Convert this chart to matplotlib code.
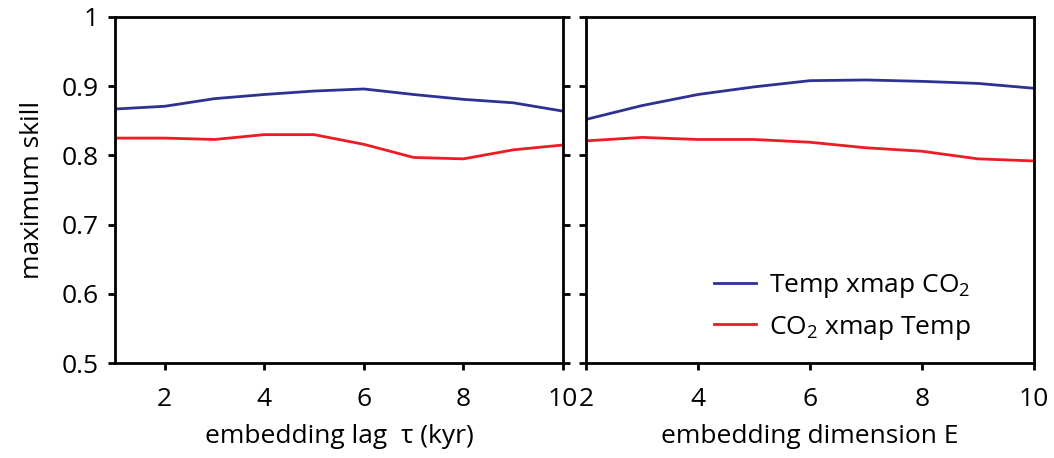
import numpy as np
import matplotlib
matplotlib.use('Agg')
import matplotlib.pyplot as plt

# skill vs embedding lag (E fixed)
lag_kyr = [1, 2, 3, 4, 5, 6, 7, 8, 9, 10]
lag_temp_xmap_co2 = [0.867, 0.871, 0.882, 0.888, 0.893, 0.896, 0.888, 0.881, 0.876, 0.864]
lag_co2_xmap_temp = [0.825, 0.825, 0.823, 0.830, 0.830, 0.816, 0.797, 0.795, 0.808, 0.815]

# skill vs embedding dimension (tau fixed)
dim_E = [2, 3, 4, 5, 6, 7, 8, 9, 10]
dim_temp_xmap_co2 = [0.852, 0.872, 0.888, 0.899, 0.908, 0.909, 0.907, 0.904, 0.897]
dim_co2_xmap_temp = [0.821, 0.826, 0.823, 0.823, 0.819, 0.811, 0.806, 0.795, 0.792]

y_ticks = [0.5, 0.6, 0.7, 0.8, 0.9, 1.0]
y_ticklabels = ['0.5', '0.6', '0.7', '0.8', '0.9', '1']

BLUE = '#2e3192'
RED = '#ed1c24'

plt.rcParams.update({
    'font.family': ['Open Sans', 'DejaVu Sans'],
    'font.size': 19,
    'mathtext.fontset': 'custom',
    'mathtext.rm': 'Open Sans',
    'mathtext.it': 'Open Sans',
    'axes.linewidth': 2.0,
    'xtick.major.width': 2.0,
    'ytick.major.width': 2.0,
    'xtick.major.size': 5,
    'ytick.major.size': 5,
})

fig = plt.figure(figsize=(10.54, 4.58), dpi=100)
ax1 = fig.add_axes([0.1091, 0.2074, 0.4250, 0.7555])
ax2 = fig.add_axes([0.5560, 0.2074, 0.4250, 0.7555])

ax1.plot(lag_kyr, lag_temp_xmap_co2, color=BLUE, lw=2)
ax1.plot(lag_kyr, lag_co2_xmap_temp, color=RED, lw=2)
ax2.plot(dim_E, dim_temp_xmap_co2, color=BLUE, lw=2, label=r'Temp xmap CO$_2$')
ax2.plot(dim_E, dim_co2_xmap_temp, color=RED, lw=2, label=r'CO$_2$ xmap Temp')

ax1.set_xlim(1, 10)
ax1.set_xticks([2, 4, 6, 8, 10])
ax2.set_xlim(2, 10)
ax2.set_xticks([2, 4, 6, 8, 10])

for ax in (ax1, ax2):
    ax.set_ylim(0.5, 1.0)
    ax.set_yticks(y_ticks)
    ax.tick_params(axis='x', direction='out', pad=12)
    ax.tick_params(axis='y', direction='out', pad=7)

ax1.set_yticklabels(y_ticklabels)
ax1.tick_params(axis='y', right=True)
ax2.tick_params(axis='y', labelleft=False)

ax1.set_ylabel('maximum skill', labelpad=12)
ax1.set_xlabel('embedding lag  τ (kyr)', labelpad=9)
ax2.set_xlabel('embedding dimension E', labelpad=9)

ax2.legend(loc='upper left', bbox_to_anchor=(0.285, 0.262), frameon=False,
           borderpad=0, borderaxespad=0, handlelength=1.6, handletextpad=0.5,
           labelspacing=0.5)

fig.savefig('out.png', dpi=100)
